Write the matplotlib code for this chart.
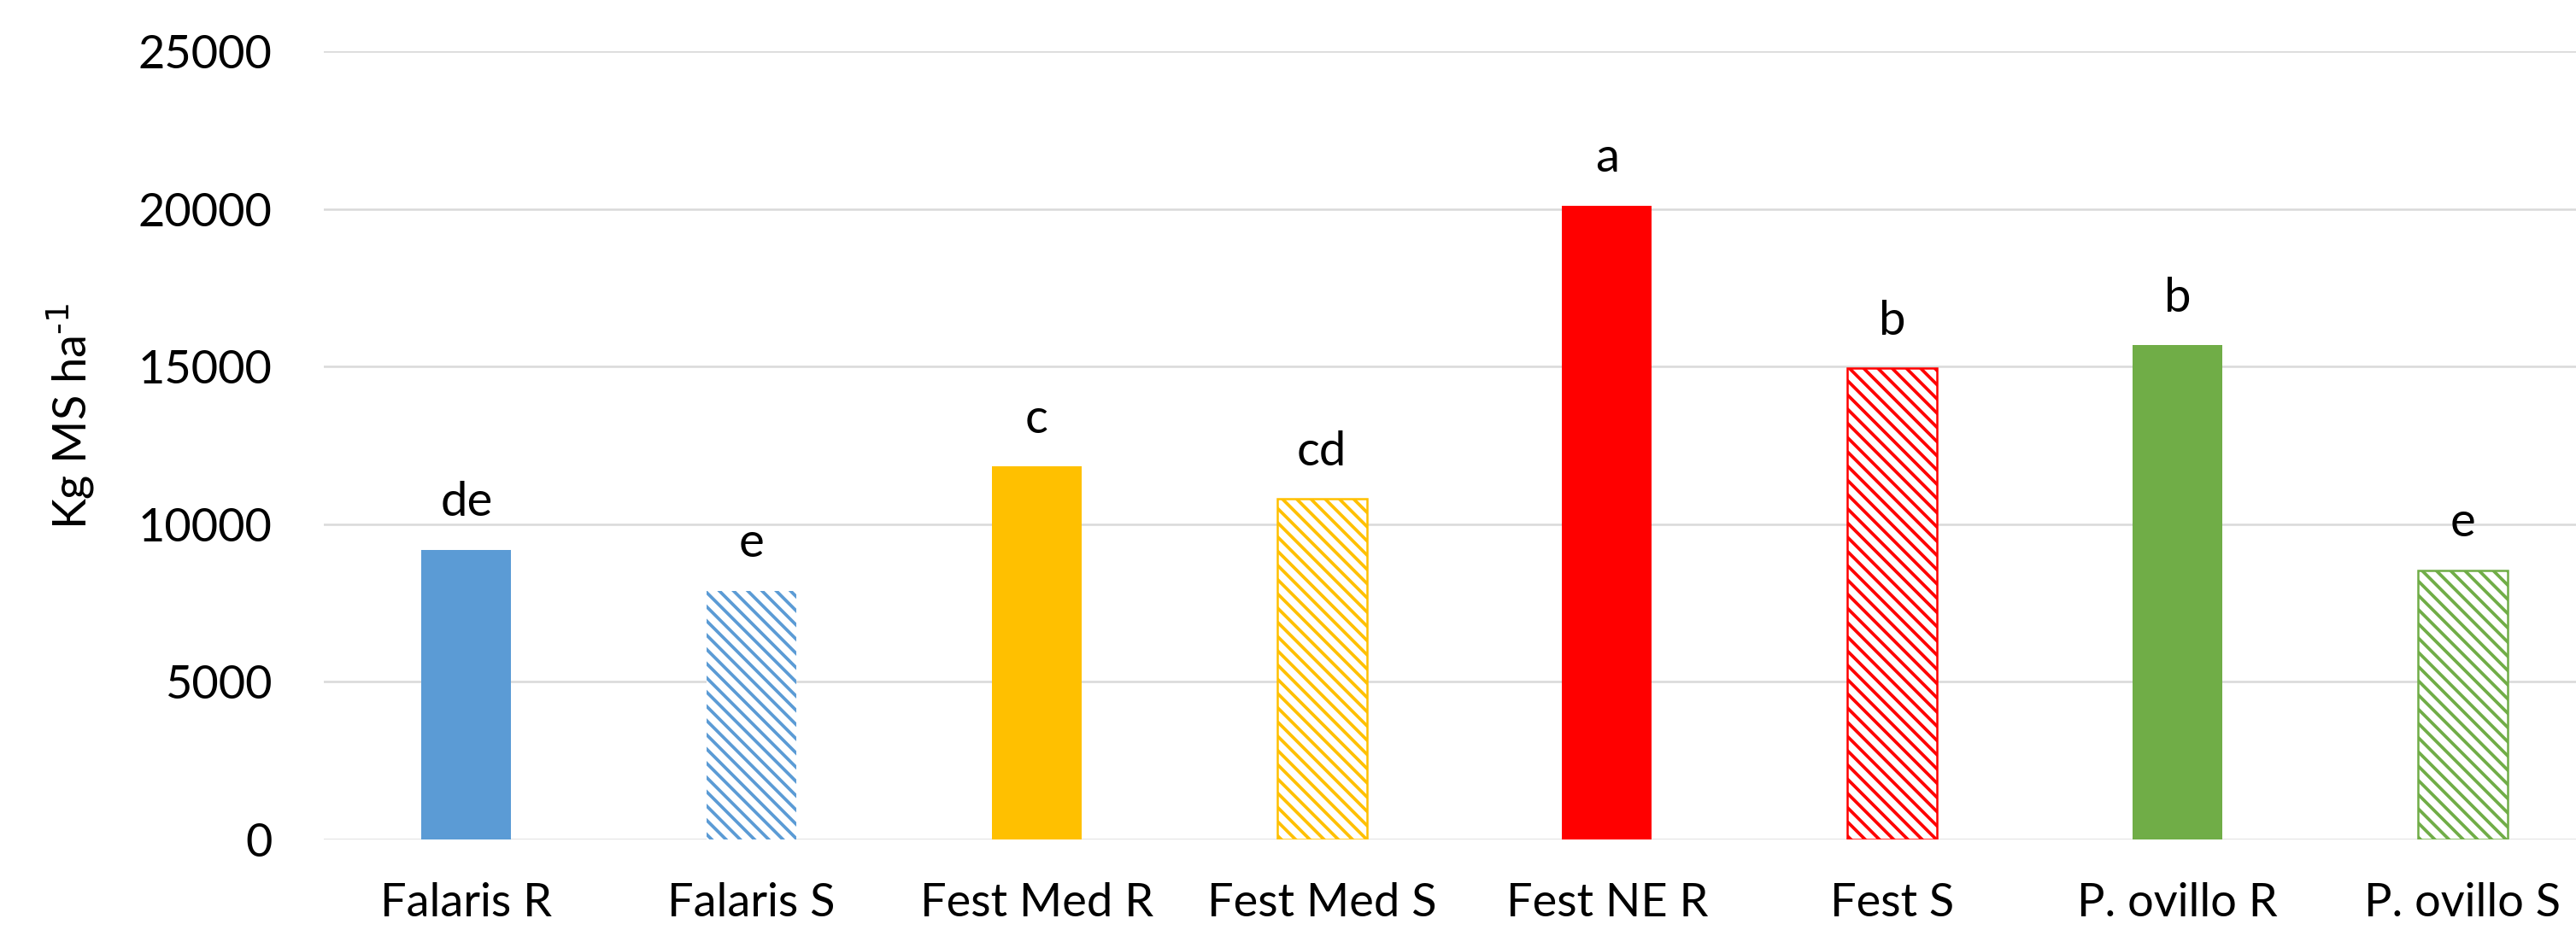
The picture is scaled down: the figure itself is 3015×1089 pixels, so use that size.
import matplotlib.pyplot as plt

# data
categories = ['Falaris R', 'Falaris S', 'Fest Med R', 'Fest Med S',
              'Fest NE R', 'Fest S', 'P. ovillo R', 'P. ovillo S']
values = [9190, 7890, 11830, 10800, 20110, 14940, 15670, 8540]
letters = ['de', 'e', 'c', 'cd', 'a', 'b', 'b', 'e']
colors = ['#5B9BD5', '#5B9BD5', '#FFC000', '#FFC000',
          '#FF0000', '#FF0000', '#70AD47', '#70AD47']
hatched = [False, True, False, True, False, True, False, True]
yticks = [0, 5000, 10000, 15000, 20000, 25000]

plt.rcParams['font.family'] = ['Lato', 'DejaVu Sans']
plt.rcParams['hatch.linewidth'] = 1.8

DPI = 150
fig = plt.figure(figsize=(3015 / DPI, 1089 / DPI), dpi=DPI)
ax = fig.add_axes([379 / 3015, 106 / 1089, (3049 - 379) / 3015, 923 / 1089])

for i, (cat, v, c, h) in enumerate(zip(categories, values, colors, hatched)):
    if h:
        lw = 0 if i == 1 else 1.2
        ax.bar(i, v, width=0.314, facecolor='white', edgecolor=c,
               hatch='\\\\\\', linewidth=lw, zorder=3)
    else:
        ax.bar(i, v, width=0.314, color=c, linewidth=0, zorder=3)

for i, (v, lab) in enumerate(zip(values, letters)):
    ax.annotate(lab, (i, v), xytext=(0, 19), textcoords='offset points',
                ha='center', va='baseline', fontsize=27, color='black')

ax.set_xlim(-0.5, len(categories) - 0.5)
ax.set_ylim(0, 25000)
ax.set_yticks(yticks)
ax.set_yticklabels([str(t) for t in yticks])
ax.set_xticks(range(len(categories)))
ax.set_xticklabels(categories)
ax.tick_params(axis='y', length=0, pad=29, labelsize=26)
ax.tick_params(axis='x', length=0, pad=24, labelsize=26)

ax.grid(axis='y', color='#D9D9D9', linewidth=1.2, zorder=0)
ax.set_axisbelow(True)
for s in ax.spines.values():
    s.set_visible(False)

fig.text(83 / 3015, 0.552, 'Kg MS ha$^{\\text{-1}}$', rotation=90,
         ha='center', va='center', fontsize=26)

fig.savefig('out.png', dpi=DPI)
